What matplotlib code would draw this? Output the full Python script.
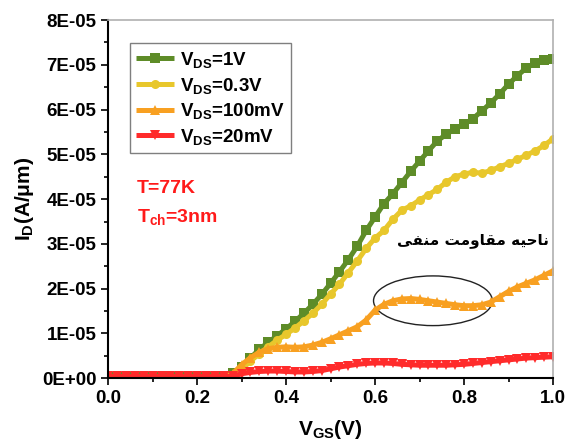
import numpy as np
import matplotlib
matplotlib.use("Agg")
from matplotlib import pyplot as plt
from matplotlib.patches import Ellipse
from matplotlib.ticker import MultipleLocator, FuncFormatter

plt.rcParams['font.family'] = ['Liberation Sans', 'DejaVu Sans']
plt.rcParams['font.weight'] = 'bold'
plt.rcParams['axes.labelweight'] = 'bold'
plt.rcParams['mathtext.fontset'] = 'custom'
plt.rcParams['mathtext.rm'] = 'Liberation Sans:bold'
plt.rcParams['mathtext.it'] = 'Liberation Sans:bold'
plt.rcParams['mathtext.bf'] = 'Liberation Sans:bold'

# gate voltage (V), 0.02 V steps
vgs = [0.00, 0.02, 0.04, 0.06, 0.08, 0.10, 0.12, 0.14, 0.16, 0.18,
       0.20, 0.22, 0.24, 0.26, 0.28, 0.30, 0.32, 0.34, 0.36, 0.38,
       0.40, 0.42, 0.44, 0.46, 0.48, 0.50, 0.52, 0.54, 0.56, 0.58,
       0.60, 0.62, 0.64, 0.66, 0.68, 0.70, 0.72, 0.74, 0.76, 0.78,
       0.80, 0.82, 0.84, 0.86, 0.88, 0.90, 0.92, 0.94, 0.96, 0.98, 1.00]

# drain current in units of 1E-05 A/um
id_1v = [0.03, 0.03, 0.03, 0.03, 0.03, 0.03, 0.03, 0.03, 0.03, 0.03,
         0.03, 0.03, 0.03, 0.05, 0.11, 0.25, 0.45, 0.65, 0.80, 0.95,
         1.10, 1.27, 1.45, 1.65, 1.87, 2.12, 2.38, 2.65, 2.95, 3.30,
         3.60, 3.90, 4.12, 4.37, 4.62, 4.85, 5.08, 5.30, 5.45, 5.57,
         5.67, 5.80, 5.97, 6.15, 6.35, 6.57, 6.76, 6.93, 7.04, 7.10, 7.12]
id_03v = [0.03, 0.03, 0.03, 0.03, 0.03, 0.03, 0.03, 0.03, 0.03, 0.03,
          0.03, 0.03, 0.03, 0.03, 0.08, 0.20, 0.38, 0.55, 0.70, 0.85,
          0.98, 1.12, 1.28, 1.45, 1.65, 1.88, 2.10, 2.36, 2.62, 2.90,
          3.13, 3.30, 3.55, 3.75, 3.85, 3.98, 4.10, 4.22, 4.38, 4.50,
          4.56, 4.60, 4.58, 4.64, 4.72, 4.80, 4.89, 4.98, 5.08, 5.20, 5.35]
id_100mv = [0.04, 0.04, 0.04, 0.04, 0.04, 0.04, 0.04, 0.04, 0.04, 0.04,
            0.04, 0.04, 0.04, 0.04, 0.10, 0.30, 0.46, 0.58, 0.66, 0.69,
            0.70, 0.69, 0.70, 0.74, 0.80, 0.88, 0.97, 1.06, 1.15, 1.30,
            1.52, 1.65, 1.73, 1.77, 1.78, 1.76, 1.73, 1.70, 1.67, 1.64,
            1.62, 1.62, 1.64, 1.70, 1.82, 1.94, 2.04, 2.12, 2.20, 2.30, 2.40]
id_20mv = [0.04, 0.04, 0.04, 0.04, 0.04, 0.04, 0.04, 0.04, 0.04, 0.04,
           0.04, 0.04, 0.04, 0.04, 0.04, 0.10, 0.13, 0.15, 0.16, 0.16,
           0.15, 0.14, 0.14, 0.15, 0.17, 0.21, 0.25, 0.28, 0.31, 0.33,
           0.34, 0.34, 0.33, 0.31, 0.30, 0.29, 0.29, 0.29, 0.29, 0.30,
           0.31, 0.33, 0.35, 0.37, 0.39, 0.41, 0.43, 0.45, 0.46, 0.47, 0.48]

labels = ['V$_\\mathrm{DS}$=1V', 'V$_\\mathrm{DS}$=0.3V',
          'V$_\\mathrm{DS}$=100mV', 'V$_\\mathrm{DS}$=20mV']
colors = ['#5e8c28', '#e8c72c', '#f8a021', '#ff2b2b']
markers = ['s', 'o', '^', 'v']

x = np.array(vgs)
series = [id_1v, id_03v, id_100mv, id_20mv]

fig = plt.figure(figsize=(5.69, 4.46), dpi=100)
ax = fig.add_axes([0.190, 0.152, 0.782, 0.803])

for ys, lab, c, m in zip(series, labels, colors, markers):
    ax.plot(x, np.array(ys) * 1e-5, color=c, lw=3.6, marker=m, ms=6.5, mew=0,
            label=lab, solid_capstyle='butt')

ax.set_xlim(0, 1.0)
ax.set_ylim(0, 8e-5)
ax.xaxis.set_major_locator(MultipleLocator(0.2))
ax.xaxis.set_minor_locator(MultipleLocator(0.1))
ax.yaxis.set_major_locator(MultipleLocator(1e-5))
ax.yaxis.set_minor_locator(MultipleLocator(0.5e-5))
ax.yaxis.set_major_formatter(FuncFormatter(lambda v, p: format(round(v, 7), '.0E')))
ax.xaxis.set_major_formatter(FuncFormatter(lambda v, p: f'{v:.1f}'))
ax.tick_params(which='both', direction='out', labelsize=13.5, width=1.2, color='black')
ax.tick_params(which='major', length=5)
ax.tick_params(which='minor', length=3)

for s in ['left', 'bottom']:
    ax.spines[s].set_linewidth(1.5)
    ax.spines[s].set_color('black')
for s in ['top', 'right']:
    ax.spines[s].set_linewidth(1.2)
    ax.spines[s].set_color('#b0b0b0')

ax.set_xlabel('V$_\\mathrm{GS}$(V)', fontsize=15, labelpad=8)
ax.set_ylabel('I$_\\mathrm{D}$(A/\u03bcm)', fontsize=15, labelpad=4)

leg = ax.legend(loc='upper left', bbox_to_anchor=(0.049, 0.935), borderaxespad=0,
                fontsize=13.5, handlelength=2.0, numpoints=1, labelspacing=0.3,
                handletextpad=0.3, borderpad=0.35, fancybox=False, framealpha=1)
leg.get_frame().set_edgecolor('#7f7f7f')
leg.get_frame().set_linewidth(1.0)

ax.text(0.065, 0.53, 'T=77K', transform=ax.transAxes, color='#ff1a1a',
        fontsize=14, fontweight='bold', va='center')
ax.text(0.065, 0.45, 'T$_\\mathrm{ch}$=3nm', transform=ax.transAxes, color='#ff1a1a',
        fontsize=14, fontweight='bold', va='center')

# Persian label in visual (shaped, right-to-left) order
persian = ('\ufef0\ufed4\ufee8\ufee3 '
           '\ufe96\ufee3\ufeed\ufe8e\ufed8\ufee3 '
           '\ufeea\ufef4\ufea3\ufe8e\ufee7')
ax.text(0.99, 0.385, persian, transform=ax.transAxes, ha='right', va='center',
        fontsize=11, fontweight='bold', family=['DejaVu Sans'])

ax.add_patch(Ellipse((0.730, 1.73e-5), 0.267, 1.11e-5, fill=False,
                     edgecolor='#222222', lw=1.0))

fig.savefig('out.png', dpi=100)
